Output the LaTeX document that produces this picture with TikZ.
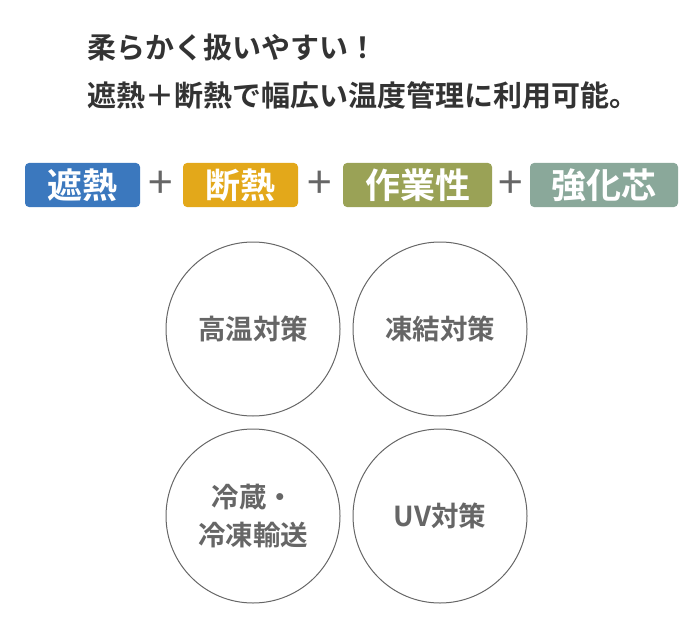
\documentclass[tikz,border=0pt]{standalone}
\usepackage{fontspec}
\newfontfamily\cjk{Noto Sans CJK JP}
\newfontfamily\cjkb{Noto Sans CJK JP Bold}
\definecolor{cblue}{HTML}{3B78BE}
\definecolor{cyel}{HTML}{E3A81A}
\definecolor{cgrn}{HTML}{9AA256}
\definecolor{cgry}{HTML}{8AA89A}
\definecolor{ctxt}{HTML}{333333}
\definecolor{cc}{HTML}{666666}
\begin{document}
\begin{tikzpicture}[x=1pt,y=-1pt,
  badge/.style={fill=#1,rounded corners=4pt,minimum height=44pt,text=white,font=\cjkb\fontsize{35}{38}\selectfont,inner sep=0pt},
  plus/.style={text=cc,font=\cjk\fontsize{44}{44}\selectfont},
  circ/.style={circle,draw=cc,line width=1pt,minimum size=174pt,text=cc,font=\cjkb\fontsize{27.5}{38}\selectfont,align=center}]
\useasboundingbox (0,0) rectangle (700,620);
\node[anchor=west,text=ctxt,font=\cjkb\fontsize{29}{32}\selectfont] (t1) at (84,47) {柔らかく扱いやすい！};
\node[anchor=west,text=ctxt,font=\cjkb\fontsize{29}{32}\selectfont] (t2) at (84,95) {遮熱＋断熱で幅広い温度管理に利用可能。};
\node[badge=cblue,minimum width=115pt] (b1) at (82.5,185) {遮熱};
\node[badge=cyel,minimum width=115pt] (b2) at (240.5,185) {断熱};
\node[badge=cgrn,minimum width=149pt] (b3) at (417.5,185) {作業性};
\node[badge=cgry,minimum width=148pt] (b4) at (604,185) {強化芯};
\node[plus] (p1) at (161,185) {+};
\node[plus] (p2) at (320,185) {+};
\node[plus] (p3) at (511,185) {+};
\node[circ] (c1) at (253,329) {高温対策};
\node[circ] (c2) at (440,329) {凍結対策};
\node[circ] (c3) at (253,516) {冷蔵・\\冷凍輸送};
\node[circ] (c4) at (440,516) {UV対策};
\end{tikzpicture}
\end{document}
